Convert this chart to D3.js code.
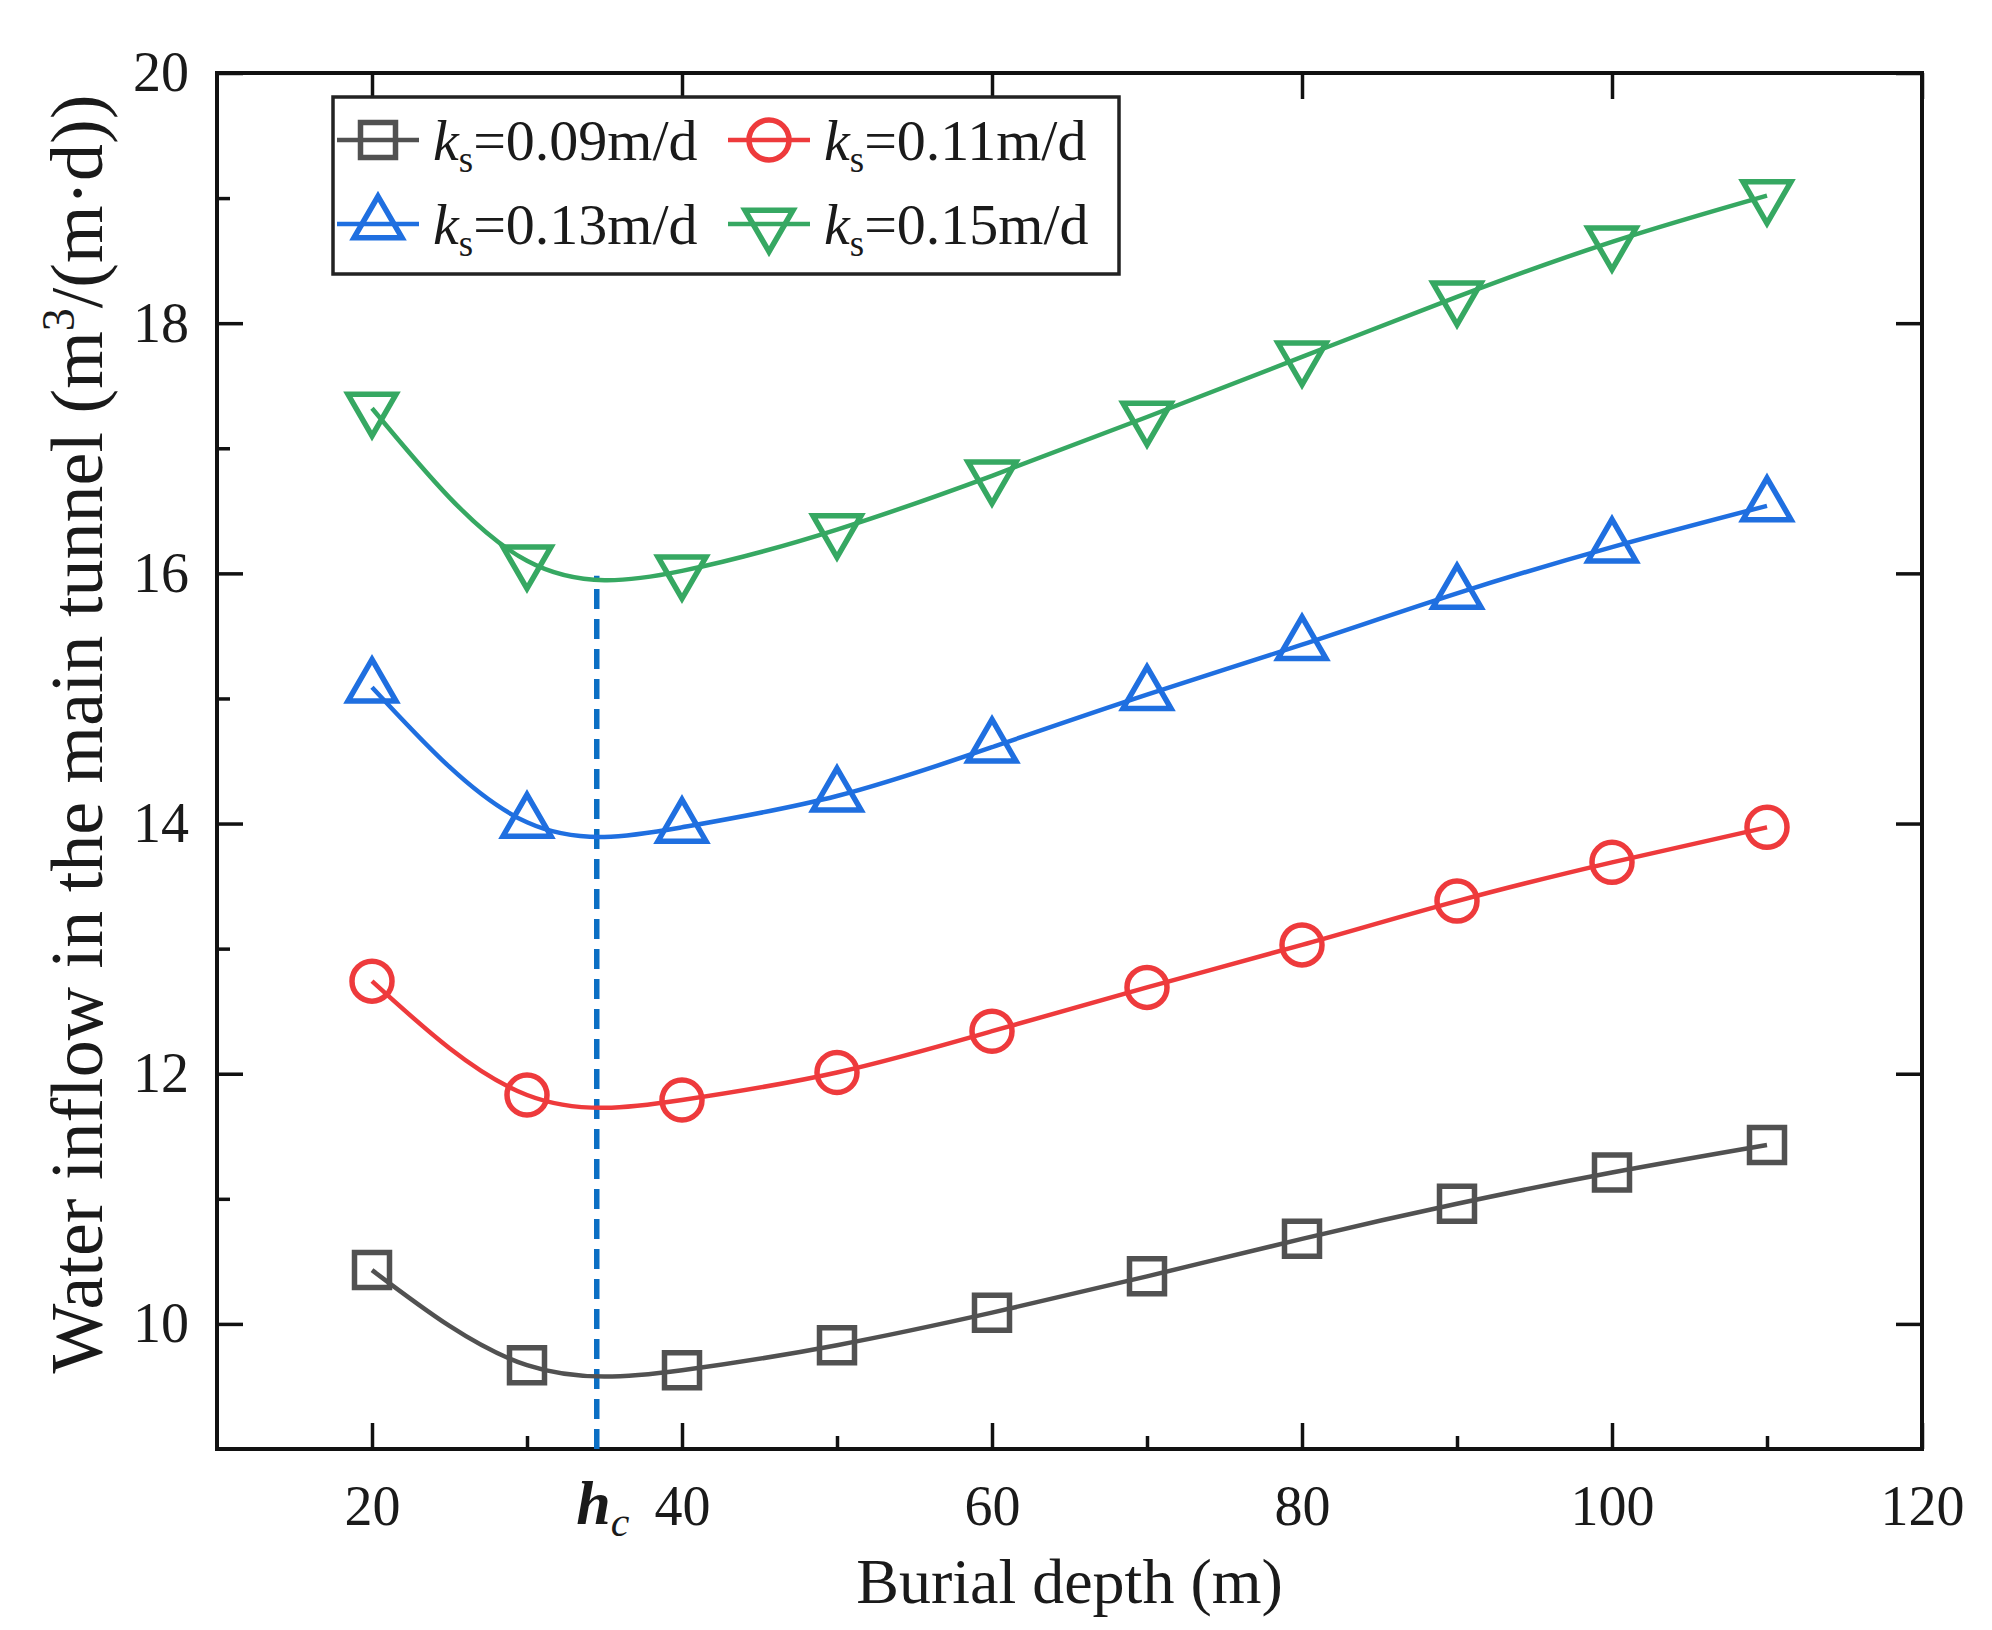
<!DOCTYPE html>
<html>
<head>
<meta charset="utf-8">
<script src="https://cdn.jsdelivr.net/npm/d3@7"></script>
<style>
  body { margin: 0; background: #fff; }
  svg text { font-family: "Liberation Serif", "Times New Roman", serif; fill: #1a1a1a; }
</style>
</head>
<body>
<svg id="chart" width="1992" height="1630"></svg>
<script>
// data
var depths = [20, 30, 40, 50, 60, 70, 80, 90, 100, 110];
var ks009 = [10.43, 9.67, 9.63, 9.83, 10.09, 10.38, 10.68, 10.96, 11.21, 11.43];
var ks011 = [12.74, 11.83, 11.79, 12.01, 12.34, 12.69, 13.03, 13.38, 13.69, 13.97];
var ks013 = [15.09, 14.01, 13.97, 14.22, 14.61, 15.03, 15.43, 15.84, 16.21, 16.54];
var ks015 = [17.32, 16.10, 16.02, 16.35, 16.78, 17.25, 17.73, 18.21, 18.65, 19.02];
var seriesLabels = ["=0.09m/d", "=0.11m/d", "=0.13m/d", "=0.15m/d"];
var xTicks = [20, 40, 60, 80, 100, 120];
var xMinor = [30, 50, 70, 90, 110];
var yTicks = [10, 12, 14, 16, 18, 20];
var yMinor = [11, 13, 15, 17, 19];
var hc = 34.5, hcTop = 15.98;

var W = 1992, H = 1630
  , margin = {top: 73, right: 70, bottom: 181, left: 217}
  , iw = W - margin.left - margin.right
  , ih = H - margin.top - margin.bottom;

var svg = d3.select("#chart");
svg.append("rect").attr("width", W).attr("height", H).attr("fill", "#fff");

var g = svg.append("g").attr("transform", "translate(" + margin.left + "," + margin.top + ")");

var x = d3.scaleLinear().domain([10, 120]).range([0, iw]);
var y = d3.scaleLinear().domain([9, 20]).range([ih, 0]);

var series = [
  {vals: ks009, color: "#515151", sym: d3.symbolSquare, size: 1225, rot: 0},
  {vals: ks011, color: "#ee3a3c", sym: d3.symbolCircle, size: 1257, rot: 0},
  {vals: ks013, color: "#1f6fe0", sym: d3.symbolTriangle, size: 1000, rot: 0},
  {vals: ks015, color: "#36a862", sym: d3.symbolTriangle, size: 1000, rot: 180}
];

// axes: ticks point inward
function styleAxis(sel){
  sel.select(".domain").remove();
  sel.selectAll(".tick line").attr("stroke", "#111").attr("stroke-width", 3.5);
  sel.selectAll(".tick text").attr("font-size", 56).attr("fill", "#1a1a1a")
    .style("font-family", "'Liberation Serif', 'Times New Roman', serif");
}

g.append("g").attr("transform", "translate(0," + ih + ")")
  .call(d3.axisBottom(x).tickValues(xTicks).tickSize(-26).tickPadding(36).tickFormat(d3.format("d")))
  .call(styleAxis);
g.append("g").attr("transform", "translate(0," + ih + ")")
  .call(d3.axisBottom(x).tickValues(xMinor).tickSize(-13).tickFormat(""))
  .call(styleAxis);
g.append("g")
  .call(d3.axisTop(x).tickValues(xTicks).tickSize(-26).tickFormat(""))
  .call(styleAxis);

g.append("g")
  .call(d3.axisLeft(y).tickValues(yTicks).tickSize(-26).tickPadding(28).tickFormat(d3.format("d")))
  .call(styleAxis);
g.append("g")
  .call(d3.axisLeft(y).tickValues(yMinor).tickSize(-13).tickFormat(""))
  .call(styleAxis);
g.append("g").attr("transform", "translate(" + iw + ",0)")
  .call(d3.axisRight(y).tickValues(yTicks).tickSize(-26).tickFormat(""))
  .call(styleAxis);

// frame
g.append("rect").attr("width", iw).attr("height", ih)
  .attr("fill", "none").attr("stroke", "#111").attr("stroke-width", 4);

// critical depth marker
g.append("line")
  .attr("x1", x(hc)).attr("x2", x(hc))
  .attr("y1", y(9)).attr("y2", y(hcTop))
  .attr("stroke", "#0b6fc4").attr("stroke-width", 5.5)
  .attr("stroke-dasharray", "20,10");

var hcLabel = g.append("text")
  .attr("x", x(hc) + 6).attr("y", ih + 75)
  .attr("text-anchor", "middle");
hcLabel.append("tspan").attr("font-size", 62).attr("font-weight", "bold")
  .attr("font-style", "italic").text("h");
hcLabel.append("tspan").attr("font-size", 42).attr("font-style", "italic")
  .attr("dy", 12).text("c");

// curves + markers
var line = d3.line()
  .x(function(d, i){ return x(depths[i]); })
  .y(function(d){ return y(d); })
  .curve(d3.curveNatural);

series.forEach(function(s){
  g.append("path").datum(s.vals)
    .attr("d", line)
    .attr("fill", "none").attr("stroke", s.color).attr("stroke-width", 4.5);

  g.selectAll(null).data(s.vals).enter().append("path")
    .attr("d", d3.symbol().type(s.sym).size(s.size))
    .attr("transform", function(d, i){
      return "translate(" + x(depths[i]) + "," + y(d) + ") rotate(" + s.rot + ")";
    })
    .attr("fill", "none").attr("stroke", s.color).attr("stroke-width", 5.5);
});

// legend
var lg = svg.append("g");
lg.append("rect").attr("x", 333).attr("y", 97).attr("width", 786).attr("height", 177)
  .attr("fill", "#fff").attr("stroke", "#222").attr("stroke-width", 3.5);

var legPos = [[378, 140], [769, 140], [378, 224], [769, 224]];
series.forEach(function(s, i){
  var p = legPos[i];
  var e = lg.append("g").attr("transform", "translate(" + p[0] + "," + p[1] + ")");
  e.append("line").attr("x1", -41).attr("x2", 41)
    .attr("stroke", s.color).attr("stroke-width", 4.5);
  e.append("path").attr("d", d3.symbol().type(s.sym).size(s.size))
    .attr("transform", "rotate(" + s.rot + ")")
    .attr("fill", "none").attr("stroke", s.color).attr("stroke-width", 5.5);
  var t = e.append("text").attr("x", 55).attr("y", 20).attr("font-size", 58);
  t.append("tspan").attr("font-style", "italic").text("k");
  t.append("tspan").attr("font-size", 37).attr("dy", 12).text("s");
  t.append("tspan").attr("dy", -12).text(seriesLabels[i]);
});

// axis titles
svg.append("text")
  .attr("x", margin.left + iw / 2).attr("y", 1603)
  .attr("text-anchor", "middle").attr("font-size", 64)
  .text("Burial depth (m)");

var yt = svg.append("text")
  .attr("transform", "translate(102,734) rotate(-90)")
  .attr("text-anchor", "middle").attr("font-size", 74);
yt.append("tspan").text("Water inflow in the main tunnel (m");
yt.append("tspan").attr("font-size", 46).attr("dy", -28).text("3");
yt.append("tspan").attr("dy", 28).text("/(m\u00b7d))");
</script>
</body>
</html>
